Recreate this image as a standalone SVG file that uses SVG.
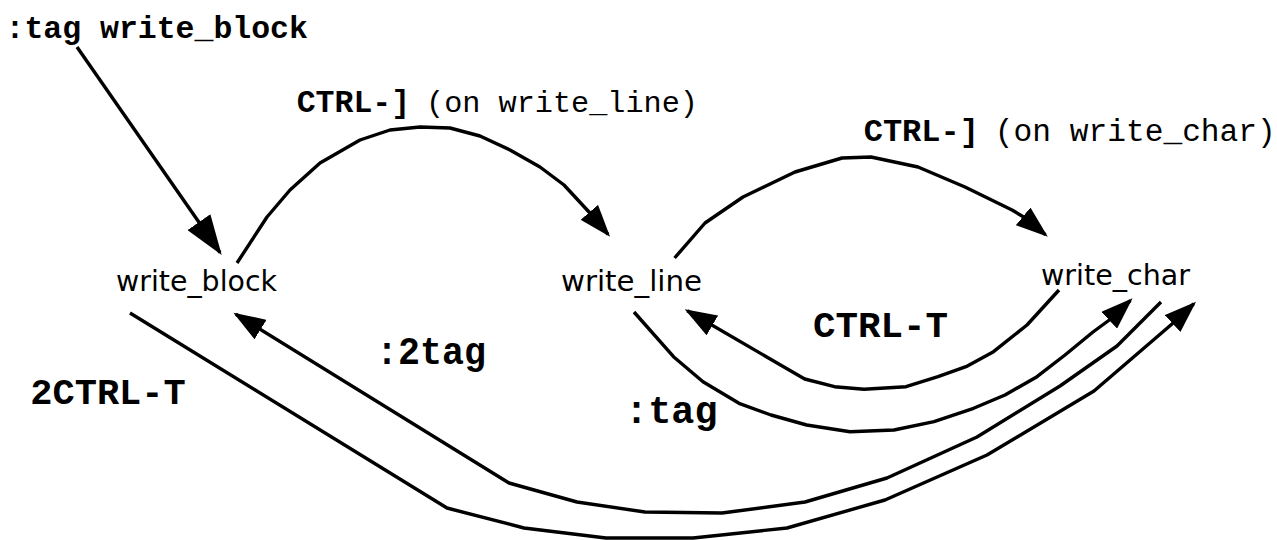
<svg xmlns="http://www.w3.org/2000/svg" width="1277" height="540" viewBox="0 0 1277 540">
  <defs>
    <style>
      .node { font-family: "DejaVu Sans", "Liberation Sans", sans-serif; font-size: 28px; fill: #000; }
      .mb { font-family: "Liberation Mono", "DejaVu Sans Mono", monospace; font-weight: bold; fill: #000; }
      .mr { font-family: "Liberation Mono", "DejaVu Sans Mono", monospace; font-weight: normal; fill: #000; }
      .edge { fill: none; stroke: #000; stroke-width: 3.4; stroke-linejoin: round; marker-end: url(#ah); }
      .edge.big { marker-end: url(#ahBig); }
    </style>
    <marker id="ah" markerUnits="userSpaceOnUse" markerWidth="32" markerHeight="23" viewBox="0 0 32 23" refX="29" refY="11.5" orient="auto">
      <path d="M0,0 L32,11.5 L0,23 z" fill="#000"/>
    </marker>
    <marker id="ahBig" markerUnits="userSpaceOnUse" markerWidth="40" markerHeight="28" viewBox="0 0 40 28" refX="37" refY="14" orient="auto">
      <path d="M0,0 L40,14 L0,28 z" fill="#000"/>
    </marker>
  </defs>
  <rect width="1277" height="540" fill="#fff"/>

  <g id="connectors">
    <path id="e-start" class="edge big" d="M77,47 L220,252.5"/>
    <path id="e-block-line" class="edge" d="M237,263 L267,217 L290,190 L320,163 L360,140 L390,130 L420,127 L450,128 L480,136 L510,150 L540,167 L564,185 L589,212 L608.1,234.4"/>
    <path id="e-line-char" class="edge" d="M674.6,258 L705,223 L743,197 L795,172 L842,158 L871,157 L918,167 L965,187 L1012,210 L1024.5,217.5 L1045.5,234.8"/>
    <path id="e-char-line" class="edge" d="M1059,290 L1027,325 L993.5,351.7 L966,366.7 L938,376.7 L906,386.7 L864,389.3 L834.5,386.7 L804.7,379 L687.3,310.8"/>
    <path id="e-line-char-tag" class="edge" d="M634,312 L673.5,356.7 L703,381.7 L739,403.3 L771,415 L806.7,425 L850,431.7 L894,430 L934,421.7 L973.6,408.3 L1005,395 L1037,376.7 L1065,355 L1093,332 L1110,319.5 L1130.4,300.4"/>
    <path id="e-block-char" class="edge" d="M130,313 L447,508 L524,528 L606,538 L693,538 L787,528 L885,500 L987,455 L1094,391 L1172,324 L1193.8,303.7"/>
    <path id="e-char-block" class="edge" d="M1161,302 L1117,346 L1060,386 L977,437 L887,478 L805,502 L722,513 L645,512 L577,502 L509,483 L235.9,314.3"/>
  </g>

  <g id="labels">
    <text class="mb" x="5.5" y="38" font-size="31.5" textLength="302.4" lengthAdjust="spacingAndGlyphs">:tag write_block</text>
    <text class="mb" x="296.7" y="111.5" font-size="31.5" textLength="113.4" lengthAdjust="spacingAndGlyphs">CTRL-]</text>
    <text class="mr" x="426" y="111.5" font-size="30" textLength="272" lengthAdjust="spacingAndGlyphs">(on write_line)</text>
    <text class="mb" x="863.7" y="140.5" font-size="32" textLength="115.2" lengthAdjust="spacingAndGlyphs">CTRL-]</text>
    <text class="mr" x="994.8" y="140.5" font-size="31" textLength="281" lengthAdjust="spacingAndGlyphs">(on write_char)</text>
    <text class="mb" x="813.1" y="337" font-size="37.5" textLength="135" lengthAdjust="spacingAndGlyphs">CTRL-T</text>
    <text class="mb" x="376" y="364" font-size="38" textLength="110" lengthAdjust="spacingAndGlyphs">:2tag</text>
    <text class="mb" x="30.3" y="404" font-size="37" textLength="155.4" lengthAdjust="spacingAndGlyphs">2CTRL-T</text>
    <text class="mb" x="625.1" y="423" font-size="38.5" textLength="92.4" lengthAdjust="spacingAndGlyphs">:tag</text>
  </g>

  <g id="node-write_block"><text class="node" x="116" y="291" textLength="161" lengthAdjust="spacingAndGlyphs">write_block</text></g>
  <g id="node-write_line"><text class="node" x="561" y="291" textLength="141" lengthAdjust="spacingAndGlyphs">write_line</text></g>
  <g id="node-write_char"><text class="node" x="1041" y="285" textLength="149" lengthAdjust="spacingAndGlyphs">write_char</text></g>
</svg>
